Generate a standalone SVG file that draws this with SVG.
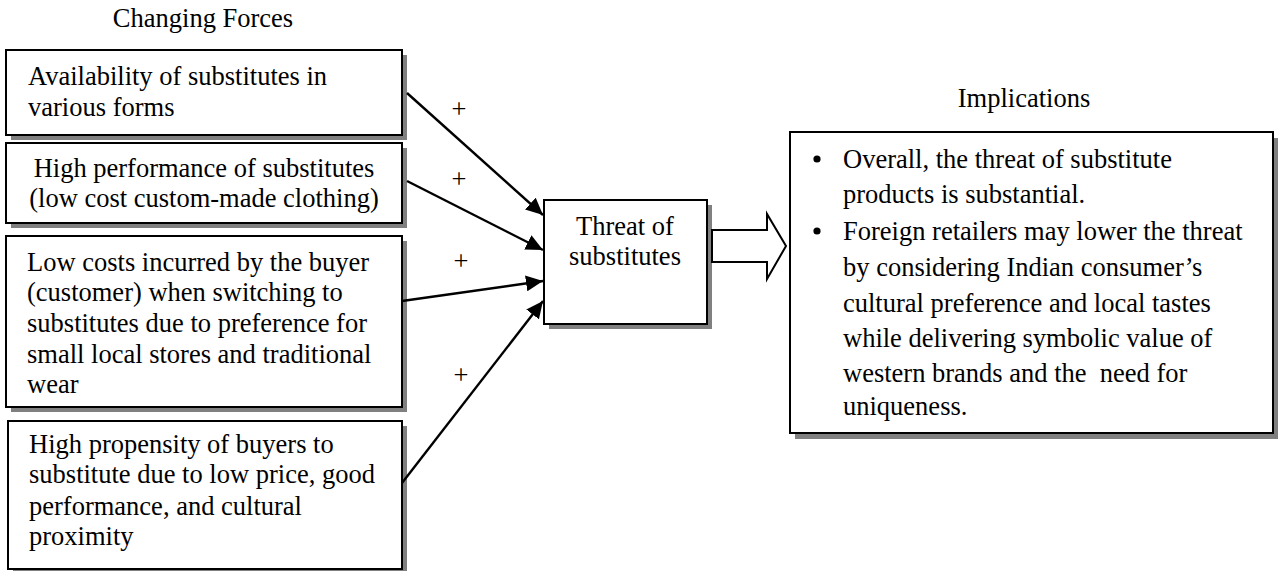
<svg xmlns="http://www.w3.org/2000/svg" width="1279" height="571" viewBox="0 0 1279 571">
<defs>
<style>
.t{font-size:26.5px;fill:#000}
.m{text-anchor:middle}
.box{fill:#fff;stroke:#000;stroke-width:2}
.sh{fill:#808080}
.con{stroke:#000;stroke-width:2.4;fill:none;marker-end:url(#ah)}
</style>
<marker id="ah" markerUnits="userSpaceOnUse" markerWidth="18" markerHeight="16" refX="17" refY="8" orient="auto">
<path d="M0,0 L17,8 L0,16 z" fill="#000"/>
</marker>
</defs>
<rect width="1279" height="571" fill="#fff"/>
<g font-family="Liberation Serif, Tinos, Times New Roman, DejaVu Serif, serif">
<text class="t m" x="203" y="27">Changing Forces</text>
<text class="t m" x="1024" y="107">Implications</text>

<g id="node-availability">
<rect class="sh" x="11" y="55" width="396" height="85"/>
<rect class="box" x="6" y="50" width="396" height="85"/>
<text class="t" x="28" y="85">Availability of substitutes in</text>
<text class="t" x="28" y="116">various forms</text>
</g>

<g id="node-performance">
<rect class="sh" x="11" y="148" width="396" height="80"/>
<rect class="box" x="6" y="143" width="396" height="80"/>
<text class="t m" x="204" y="177">High performance of substitutes</text>
<text class="t m" x="204" y="207">(low cost custom-made clothing)</text>
</g>

<g id="node-lowcosts">
<rect class="sh" x="11" y="241" width="396" height="171"/>
<rect class="box" x="6" y="236" width="396" height="171"/>
<text class="t" x="27" y="271">Low costs incurred by the buyer</text>
<text class="t" x="27" y="301">(customer) when switching to</text>
<text class="t" x="27" y="332">substitutes due to preference for</text>
<text class="t" x="27" y="363">small local stores and traditional</text>
<text class="t" x="27" y="393">wear</text>
</g>

<g id="node-propensity">
<rect class="sh" x="13" y="426" width="394" height="148"/>
<rect class="box" x="8" y="421" width="394" height="148"/>
<text class="t" x="29" y="453">High propensity of buyers to</text>
<text class="t" x="29" y="483">substitute due to low price, good</text>
<text class="t" x="29" y="515">performance, and cultural</text>
<text class="t" x="29" y="545">proximity</text>
</g>

<g id="node-threat">
<rect class="sh" x="549" y="205" width="163" height="124"/>
<rect class="box" x="544" y="200" width="163" height="124"/>
<text class="t m" x="625" y="235">Threat of</text>
<text class="t m" x="625" y="265">substitutes</text>
</g>

<g id="node-implications">
<rect class="sh" x="795" y="138" width="483" height="301"/>
<rect class="box" x="790" y="132" width="483" height="301"/>
<circle cx="817" cy="159" r="3.6" fill="#000"/>
<circle cx="817" cy="231" r="3.6" fill="#000"/>
<text class="t" x="843" y="168">Overall, the threat of substitute</text>
<text class="t" x="843" y="203">products is substantial.</text>
<text class="t" x="843" y="240">Foreign retailers may lower the threat</text>
<text class="t" x="843" y="276">by considering Indian consumer’s</text>
<text class="t" x="843" y="312">cultural preference and local tastes</text>
<text class="t" x="843" y="347">while delivering symbolic value of</text>
<text class="t" x="843" y="382" xml:space="preserve">western brands and the  need for</text>
<text class="t" x="843" y="415">uniqueness.</text>
</g>

<g id="connectors">
<line class="con" x1="407" y1="93" x2="543" y2="215"/>
<line class="con" x1="407" y1="181" x2="543" y2="250"/>
<line class="con" x1="402" y1="301" x2="543" y2="281"/>
<line class="con" x1="402" y1="483" x2="543" y2="301"/>
<polygon points="712,230 767,230 767,214 786,246 767,279 767,262 712,262" fill="#fff" stroke="#000" stroke-width="2"/>
<text class="t m" x="459" y="118">+</text>
<text class="t m" x="459" y="188">+</text>
<text class="t m" x="461" y="270">+</text>
<text class="t m" x="461" y="384">+</text>
</g>
</g>
</svg>
